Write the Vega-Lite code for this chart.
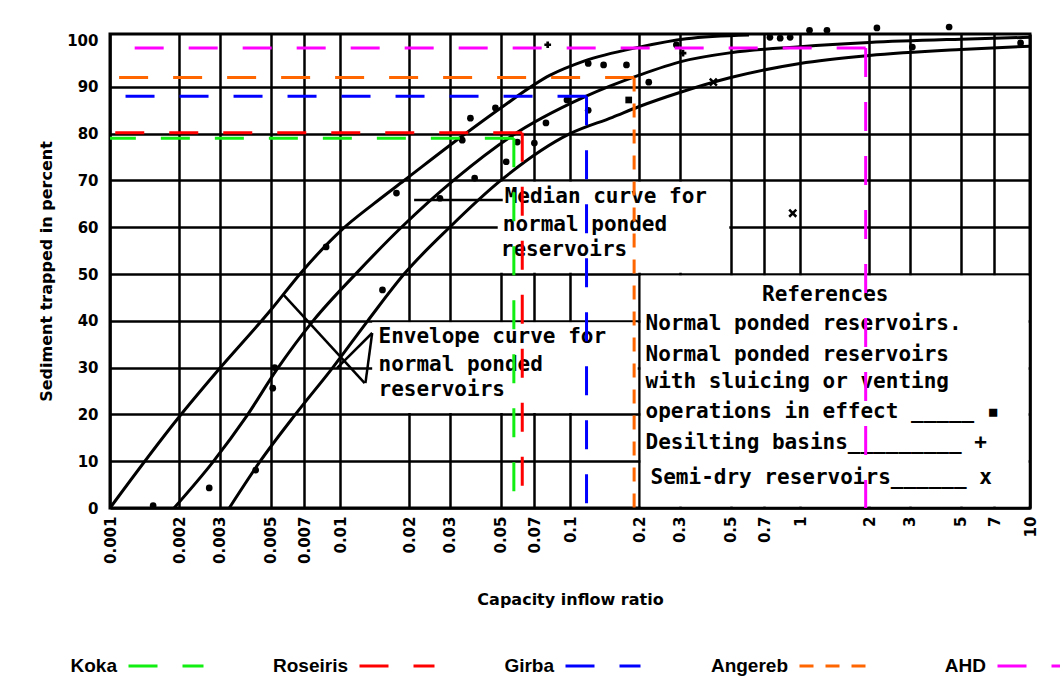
{
  "$schema": "https://vega.github.io/schema/vega-lite/v6.json",
  "width": 920,
  "height": 474,
  "autosize": {"type": "none"},
  "padding": {"left": 110, "top": 34, "right": 30, "bottom": 170},
  "background": "white",
  "config": {
    "view": {"stroke": "black", "strokeWidth": 3},
    "font": "DejaVu Sans"
  },
  "datasets": {
    "boxes": [
      {"x": 0.0485, "x2": 0.4926, "y": 50.3, "y2": 69.7},
      {"x": 0.0138, "x2": 0.197, "y": 20.3, "y2": 39.7},
      {"x": 0.203, "x2": 9.85, "y": 0.3, "y2": 49.7}
    ],
    "curves": [
      {"curve": "upper", "x": 0.001, "y": 0},
      {"curve": "upper", "x": 0.002, "y": 19.5},
      {"curve": "upper", "x": 0.0029, "y": 29},
      {"curve": "upper", "x": 0.005, "y": 42.3},
      {"curve": "upper", "x": 0.0068, "y": 50.4},
      {"curve": "upper", "x": 0.0102, "y": 59.5},
      {"curve": "upper", "x": 0.014, "y": 65},
      {"curve": "upper", "x": 0.019, "y": 70},
      {"curve": "upper", "x": 0.034, "y": 79.5},
      {"curve": "upper", "x": 0.05, "y": 85.5},
      {"curve": "upper", "x": 0.082, "y": 92.5},
      {"curve": "upper", "x": 0.115, "y": 95.5},
      {"curve": "upper", "x": 0.2, "y": 98.5},
      {"curve": "upper", "x": 0.32, "y": 100.3},
      {"curve": "upper", "x": 0.6, "y": 101.1},
      {"curve": "median", "x": 0.0019, "y": 0},
      {"curve": "median", "x": 0.0028, "y": 9.8},
      {"curve": "median", "x": 0.0039, "y": 19.4},
      {"curve": "median", "x": 0.0053, "y": 29.5},
      {"curve": "median", "x": 0.0077, "y": 40.2},
      {"curve": "median", "x": 0.0118, "y": 50.2},
      {"curve": "median", "x": 0.0185, "y": 60},
      {"curve": "median", "x": 0.032, "y": 70.5},
      {"curve": "median", "x": 0.055, "y": 79.3},
      {"curve": "median", "x": 0.115, "y": 87.8},
      {"curve": "median", "x": 0.2, "y": 92.5},
      {"curve": "median", "x": 0.31, "y": 95.5},
      {"curve": "median", "x": 0.5, "y": 97.3},
      {"curve": "median", "x": 1, "y": 98.6},
      {"curve": "median", "x": 2, "y": 99.5},
      {"curve": "median", "x": 5, "y": 100.2},
      {"curve": "median", "x": 10, "y": 100.6},
      {"curve": "lower", "x": 0.0033, "y": 0},
      {"curve": "lower", "x": 0.0045, "y": 10},
      {"curve": "lower", "x": 0.0064, "y": 20},
      {"curve": "lower", "x": 0.0093, "y": 30},
      {"curve": "lower", "x": 0.0132, "y": 40},
      {"curve": "lower", "x": 0.019, "y": 50},
      {"curve": "lower", "x": 0.03, "y": 60},
      {"curve": "lower", "x": 0.05, "y": 70},
      {"curve": "lower", "x": 0.1, "y": 80},
      {"curve": "lower", "x": 0.153, "y": 83.5},
      {"curve": "lower", "x": 0.2, "y": 85.8},
      {"curve": "lower", "x": 0.3, "y": 88.8},
      {"curve": "lower", "x": 0.5, "y": 92},
      {"curve": "lower", "x": 1, "y": 95},
      {"curve": "lower", "x": 2, "y": 96.7},
      {"curve": "lower", "x": 5, "y": 98},
      {"curve": "lower", "x": 10, "y": 98.7}
    ],
    "leaders": [
      {"x": 0.0057, "y": 45.5, "x2": 0.0128, "y2": 26.7},
      {"x": 0.0097, "y": 29.9, "x2": 0.0138, "y2": 37.4},
      {"x": 0.0138, "y": 37.4, "x2": 0.0129, "y2": 26.7},
      {"x": 0.021, "y": 65.8, "x2": 0.051, "y2": 65.8}
    ],
    "points": [
      {"kind": "dot", "x": 0.00154, "y": 0.5},
      {"kind": "dot", "x": 0.0027, "y": 4.3},
      {"kind": "dot", "x": 0.0043, "y": 8.1},
      {"kind": "dot", "x": 0.0051, "y": 25.6},
      {"kind": "dot", "x": 0.0052, "y": 30},
      {"kind": "dot", "x": 0.0087, "y": 55.8},
      {"kind": "dot", "x": 0.0153, "y": 46.6},
      {"kind": "dot", "x": 0.0176, "y": 67.3},
      {"kind": "dot", "x": 0.0272, "y": 66.2},
      {"kind": "dot", "x": 0.0385, "y": 70.5},
      {"kind": "dot", "x": 0.034, "y": 78.6},
      {"kind": "dot", "x": 0.0369, "y": 83.3},
      {"kind": "dot", "x": 0.0474, "y": 85.5},
      {"kind": "dot", "x": 0.0528, "y": 74},
      {"kind": "dot", "x": 0.059, "y": 78.2},
      {"kind": "dot", "x": 0.07, "y": 78},
      {"kind": "dot", "x": 0.0786, "y": 82.3},
      {"kind": "dot", "x": 0.097, "y": 87.2},
      {"kind": "dot", "x": 0.12, "y": 95},
      {"kind": "dot", "x": 0.12, "y": 85},
      {"kind": "dot", "x": 0.14, "y": 94.7},
      {"kind": "dot", "x": 0.176, "y": 94.7},
      {"kind": "dot", "x": 0.22, "y": 91},
      {"kind": "dot", "x": 0.29, "y": 99},
      {"kind": "dot", "x": 0.74, "y": 100.6},
      {"kind": "dot", "x": 0.82, "y": 100.4},
      {"kind": "dot", "x": 0.906, "y": 100.6},
      {"kind": "dot", "x": 1.1, "y": 102.1},
      {"kind": "dot", "x": 1.31, "y": 102.1},
      {"kind": "dot", "x": 2.16, "y": 102.6},
      {"kind": "dot", "x": 4.45, "y": 102.8},
      {"kind": "dot", "x": 3.08, "y": 98.5},
      {"kind": "dot", "x": 9.1, "y": 99.4},
      {"kind": "square", "x": 0.18, "y": 87.2},
      {"kind": "plus", "x": 0.08, "y": 99},
      {"kind": "plus", "x": 0.31, "y": 97.2},
      {"kind": "x", "x": 0.93, "y": 63},
      {"kind": "x", "x": 0.42, "y": 91}
    ],
    "notes": [
      {"x": 0.052, "y": 66.4, "text": "Median curve for"},
      {"x": 0.051, "y": 60.5, "text": "normal ponded"},
      {"x": 0.05, "y": 55.1, "text": "reservoirs"},
      {"x": 0.0147, "y": 36.5, "text": "Envelope curve for"},
      {"x": 0.0147, "y": 30.6, "text": "normal ponded"},
      {"x": 0.0147, "y": 25.2, "text": "reservoirs"},
      {"x": 0.684, "y": 45.5, "text": "References"},
      {"x": 0.213, "y": 39.3, "text": "Normal ponded reservoirs."},
      {"x": 0.213, "y": 32.7, "text": "Normal ponded reservoirs"},
      {"x": 0.213, "y": 26.9, "text": "with sluicing or venting"},
      {"x": 0.213, "y": 20.5, "text": "operations in effect _____ ▪"},
      {"x": 0.213, "y": 13.9, "text": "Desilting basins_________ +"},
      {"x": 0.224, "y": 6.4, "text": "Semi-dry reservoirs______ x"}
    ],
    "reservoirs": [
      {"name": "Koka", "x": 0.057, "y": 79},
      {"name": "Roseiris", "x": 0.062, "y": 80.2},
      {"name": "Girba", "x": 0.118, "y": 88},
      {"name": "Angereb", "x": 0.19, "y": 92},
      {"name": "AHD", "x": 1.93, "y": 98.3}
    ]
  },
  "layer": [
    {
      "data": {"name": "boxes"},
      "mark": {"type": "rect", "fill": "white", "strokeWidth": 0},
      "encoding": {
        "x": {
          "field": "x",
          "type": "quantitative",
          "scale": {"type": "log", "domain": [0.001, 10]},
          "axis": {
            "values": [0.001, 0.002, 0.003, 0.005, 0.007, 0.01, 0.02, 0.03, 0.05, 0.07, 0.1, 0.2, 0.3, 0.5, 0.7, 1, 2, 3, 5, 7, 10],
            "format": "~g",
            "labelAngle": -90,
            "labelFont": "DejaVu Sans",
            "labelFontWeight": "bold",
            "labelFontSize": 15,
            "labelColor": "black",
            "labelPadding": 8,
            "labelOverlap": false,
            "ticks": false,
            "domain": false,
            "grid": true,
            "gridColor": "black",
            "gridWidth": 2.5,
            "gridOpacity": 1,
            "title": "Capacity inflow ratio",
            "titleFont": "DejaVu Sans",
            "titleFontSize": 16,
            "titleFontWeight": "bold",
            "titleColor": "black",
            "titlePadding": 28
          }
        },
        "x2": {"field": "x2"},
        "y": {
          "field": "y",
          "type": "quantitative",
          "scale": {"domain": [0, 101.3], "nice": false, "zero": false},
          "axis": {
            "values": [0, 10, 20, 30, 40, 50, 60, 70, 80, 90, 100],
            "labelFont": "DejaVu Sans",
            "labelFontWeight": "bold",
            "labelFontSize": 15,
            "labelColor": "black",
            "labelPadding": 12,
            "ticks": false,
            "domain": false,
            "grid": true,
            "gridColor": "black",
            "gridWidth": 2.5,
            "gridOpacity": {"condition": {"test": "datum.value > 95", "value": 0}, "value": 1},
            "title": "Sediment trapped in percent",
            "titleFont": "DejaVu Sans",
            "titleFontSize": 16,
            "titleFontWeight": "bold",
            "titleColor": "black",
            "titlePadding": 12
          }
        },
        "y2": {"field": "y2"}
      }
    },
    {
      "data": {"name": "curves"},
      "mark": {"type": "line", "color": "black", "strokeWidth": 3, "interpolate": "monotone"},
      "encoding": {
        "x": {"field": "x", "type": "quantitative"},
        "y": {"field": "y", "type": "quantitative"},
        "detail": {"field": "curve"}
      }
    },
    {
      "data": {"name": "leaders"},
      "mark": {"type": "rule", "color": "black", "strokeWidth": 2.5},
      "encoding": {
        "x": {"field": "x", "type": "quantitative"},
        "y": {"field": "y", "type": "quantitative"},
        "x2": {"field": "x2"},
        "y2": {"field": "y2"}
      }
    },
    {
      "data": {"name": "points"},
      "transform": [{"filter": "datum.kind !== 'x'"}],
      "mark": {"type": "point", "filled": true, "color": "black", "opacity": 1, "size": 45},
      "encoding": {
        "x": {"field": "x", "type": "quantitative"},
        "y": {"field": "y", "type": "quantitative"},
        "shape": {
          "field": "kind",
          "type": "nominal",
          "scale": {"domain": ["dot", "square", "plus"], "range": ["circle", "square", "cross"]},
          "legend": null
        }
      }
    },
    {
      "data": {"name": "points"},
      "transform": [{"filter": "datum.kind === 'x'"}],
      "mark": {"type": "point", "filled": false, "color": "black", "opacity": 1, "strokeWidth": 2.5, "size": 50, "shape": "M-1,-1L1,1M1,-1L-1,1"},
      "encoding": {
        "x": {"field": "x", "type": "quantitative"},
        "y": {"field": "y", "type": "quantitative"}
      }
    },
    {
      "data": {"name": "notes"},
      "mark": {"type": "text", "align": "left", "baseline": "middle", "font": "DejaVu Sans Mono", "fontWeight": "bold", "fontSize": 21, "color": "black"},
      "encoding": {
        "x": {"field": "x", "type": "quantitative"},
        "y": {"field": "y", "type": "quantitative"},
        "text": {"field": "text"}
      }
    },
    {
      "data": {"name": "reservoirs"},
      "mark": {"type": "rule", "strokeWidth": 3, "strokeDash": [29, 25]},
      "encoding": {
        "x": {"field": "x", "type": "quantitative"},
        "x2": {"datum": 0.001},
        "y": {"field": "y", "type": "quantitative"},
        "color": {
          "field": "name",
          "type": "nominal",
          "scale": {"domain": ["Koka", "Roseiris", "Girba", "Angereb", "AHD"], "range": ["#11ee11", "#ff0000", "#0000ff", "#ff6600", "#ff00ff"]},
          "legend": {
            "orient": "none", "legendX": 17, "legendY": 593, "direction": "horizontal", "columns": 5,
            "title": null, "symbolType": "stroke", "symbolSize": 5625, "symbolStrokeWidth": 3,
            "labelFont": "Liberation Sans", "labelFontWeight": "bold", "labelFontSize": 19, "labelColor": "black",
            "labelAlign": "right", "labelOffset": -88, "columnPadding": 63
          }
        }
      }
    },
    {
      "data": {"name": "reservoirs"},
      "mark": {"type": "rule", "strokeWidth": 3},
      "encoding": {
        "x": {"field": "x", "type": "quantitative"},
        "y": {"field": "y", "type": "quantitative"},
        "y2": {"datum": 0},
        "color": {
          "field": "name",
          "type": "nominal",
          "legend": {
            "orient": "none", "legendX": 17, "legendY": 593, "direction": "horizontal", "columns": 5,
            "title": null, "symbolType": "stroke", "symbolSize": 5625, "symbolStrokeWidth": 3,
            "labelFont": "Liberation Sans", "labelFontWeight": "bold", "labelFontSize": 19, "labelColor": "black",
            "labelAlign": "right", "labelOffset": -88, "columnPadding": 63
          }
        },
        "strokeDash": {
          "field": "name",
          "type": "nominal",
          "scale": {"domain": ["Koka", "Roseiris", "Girba", "Angereb", "AHD"], "range": [[29, 25], [29, 25], [29, 25], [14, 12], [29, 25]]},
          "legend": {
            "orient": "none", "legendX": 17, "legendY": 593, "direction": "horizontal", "columns": 5,
            "title": null, "symbolType": "stroke", "symbolSize": 5625, "symbolStrokeWidth": 3,
            "labelFont": "Liberation Sans", "labelFontWeight": "bold", "labelFontSize": 19, "labelColor": "black",
            "labelAlign": "right", "labelOffset": -88, "columnPadding": 63
          }
        }
      }
    }
  ]
}
